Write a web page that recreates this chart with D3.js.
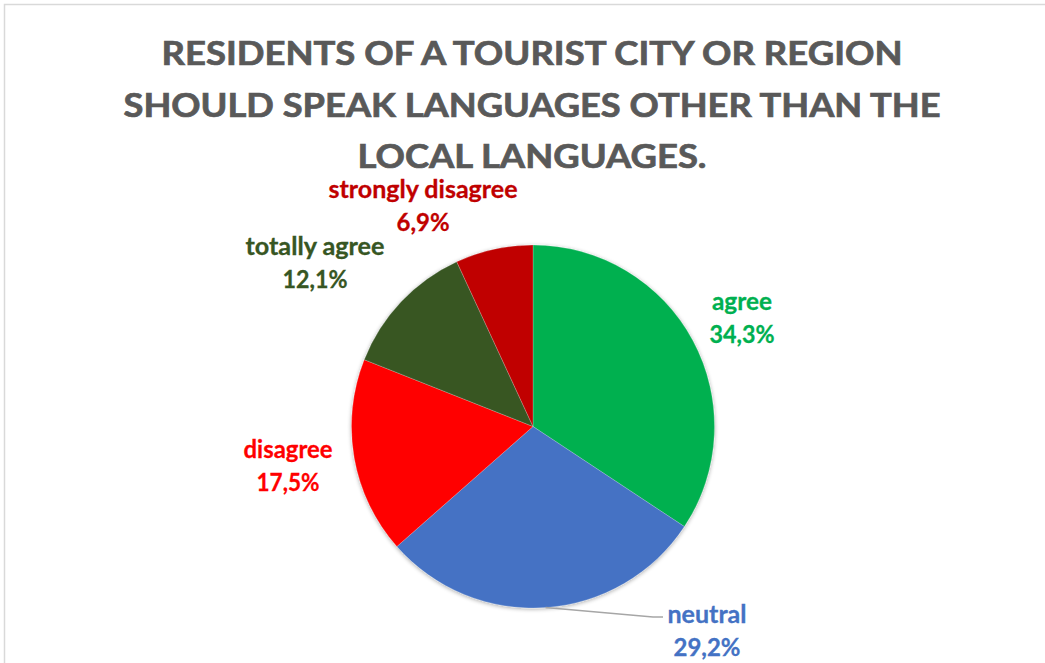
<!DOCTYPE html>
<html>
<head>
<meta charset="utf-8">
<script src="https://cdn.jsdelivr.net/npm/d3@7/dist/d3.min.js"></script>
<style>
  html, body { margin: 0; padding: 0; background: #ffffff; }
  svg { display: block; }
  text { font-family: Lato, "Open Sans", sans-serif; font-weight: 700; }
</style>
</head>
<body>
<svg id="chart" width="1045" height="663"></svg>
<script>
// Survey answers, clockwise from 12 o'clock
const categories = ["agree", "neutral", "disagree", "totally agree", "strongly disagree"];
const shares = [34.3, 29.2, 17.5, 12.1, 6.9];
const sliceColors = ["#00B050", "#4472C4", "#FF0000", "#375623", "#C00000"];
const titleLines = [
  "RESIDENTS OF A TOURIST CITY OR REGION",
  "SHOULD SPEAK LANGUAGES OTHER THAN THE",
  "LOCAL LANGUAGES."
];

// Layout
const W = 1045, H = 663;
const cx = 533, cy = 426.5, R = 181.5;
const titleWidths = [741, 817, 349];
// first-line baseline of each data label, relative to the pie centre
const labelOffsets = [[209, -116.5], [174, 196.5], [-245, 31.5], [-218, -171.5], [-110, -228.5]];
const labelWidths = [[60, 65], [79, 67], [89, 63], [139, 65], [189, 53]];

const svg = d3.select("#chart");

// chart frame
svg.append("rect")
  .attr("x", 4.5).attr("y", 4.5)
  .attr("width", W + 10).attr("height", H + 10)
  .attr("fill", "#ffffff")
  .attr("stroke", "#d9d9d9")
  .attr("stroke-width", 1.5);

// title
svg.append("g").selectAll("text")
  .data(titleLines)
  .join("text")
  .attr("x", 532)
  .attr("y", (d, i) => 65 + i * 51.5)
  .attr("text-anchor", "middle")
  .attr("fill", "#595959")
  .attr("stroke", "#595959")
  .attr("stroke-width", 0.7)
  .attr("font-size", 32.5)
  .attr("textLength", (d, i) => titleWidths[i])
  .attr("lengthAdjust", "spacingAndGlyphs")
  .text(d => d);

// soft shadow under the pie
const defs = svg.append("defs");
const f = defs.append("filter").attr("id", "pieShadow")
  .attr("x", "-10%").attr("y", "-10%").attr("width", "120%").attr("height", "120%");
f.append("feGaussianBlur").attr("in", "SourceAlpha").attr("stdDeviation", 2).attr("result", "b");
f.append("feOffset").attr("in", "b").attr("dx", 0).attr("dy", 1).attr("result", "o");
f.append("feComponentTransfer").attr("in", "o").attr("result", "s")
  .append("feFuncA").attr("type", "linear").attr("slope", 0.35);
const fm = f.append("feMerge");
fm.append("feMergeNode").attr("in", "s");
fm.append("feMergeNode").attr("in", "SourceGraphic");

const pie = d3.pie().sort(null).value(d => d)(shares);
const arc = d3.arc().innerRadius(0).outerRadius(R);
const color = d3.scaleOrdinal().domain(categories).range(sliceColors);

const g = svg.append("g").attr("transform", `translate(${cx},${cy})`);
g.append("g").attr("filter", "url(#pieShadow)")
  .selectAll("path")
  .data(pie)
  .join("path")
  .attr("d", arc)
  .attr("fill", (d, i) => color(categories[i]))
  .attr("stroke", "#ffffff")
  .attr("stroke-opacity", 0.35)
  .attr("stroke-width", 0.6);

// leader line for the neutral label
const nIdx = categories.indexOf("neutral");
const nMid = (pie[nIdx].startAngle + pie[nIdx].endAngle) / 2;
const p0 = [R * Math.sin(nMid), -R * Math.cos(nMid)];
const [lx, ly] = labelOffsets[nIdx];
g.append("polyline")
  .attr("points", [p0, [lx - 54, ly - 6], [lx - 44, ly - 6]].map(p => p.join(",")).join(" "))
  .attr("fill", "none")
  .attr("stroke", "#a6a6a6")
  .attr("stroke-width", 1.5);

// data labels
const fmt = v => d3.format(".1f")(v).replace(".", ",") + "%";
const labels = g.append("g").selectAll("g")
  .data(pie)
  .join("g")
  .attr("transform", (d, i) => `translate(${labelOffsets[i][0]},${labelOffsets[i][1]})`)
  .attr("fill", (d, i) => color(categories[i]))
  .attr("stroke", (d, i) => color(categories[i]))
  .attr("stroke-width", 0.3)
  .attr("text-anchor", "middle")
  .attr("font-size", 24.5);
labels.append("text")
  .attr("textLength", (d, i) => labelWidths[i][0])
  .attr("lengthAdjust", "spacingAndGlyphs")
  .text((d, i) => categories[i]);
labels.append("text").attr("y", 33)
  .attr("textLength", (d, i) => labelWidths[i][1])
  .attr("lengthAdjust", "spacingAndGlyphs")
  .text(d => fmt(d.data));
</script>
</body>
</html>
